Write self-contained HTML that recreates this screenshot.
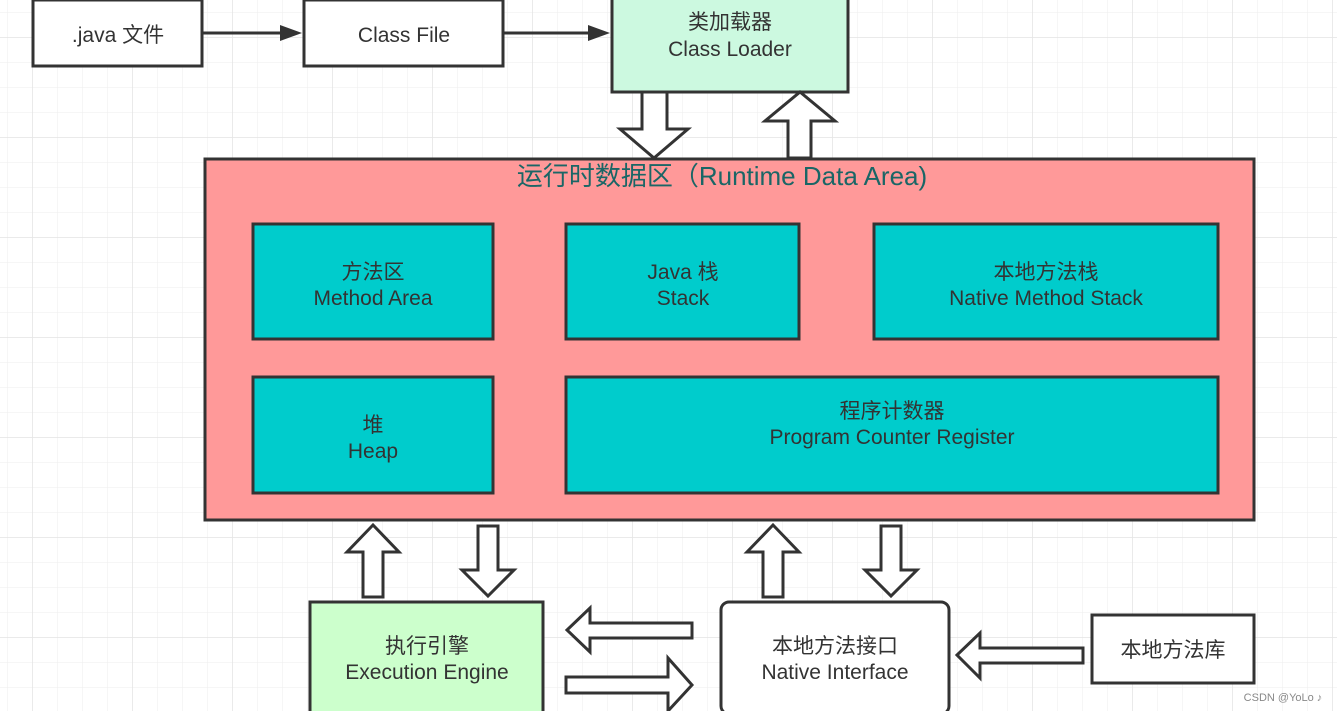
<!DOCTYPE html>
<html><head><meta charset="utf-8"><style>
html,body{margin:0;padding:0;background:#fff}
svg{display:block}
text{font-family:"Liberation Sans","Noto Sans CJK SC",sans-serif;font-size:21px;fill:#333;text-anchor:middle}
</style></head><body>
<svg width="1337" height="711" viewBox="0 0 1337 711" xmlns="http://www.w3.org/2000/svg">
<defs>
<pattern id="g" x="7" y="12" width="25" height="25" patternUnits="userSpaceOnUse">
<path d="M0 0H25M0 0V25" stroke="#eeeeee" stroke-width="1" fill="none"/>
</pattern>
<pattern id="G" x="32" y="37" width="100" height="100" patternUnits="userSpaceOnUse">
<path d="M0 0H100M0 0V100" stroke="#e4e4e4" stroke-width="1.5" fill="none"/>
</pattern>
</defs>
<rect width="1337" height="711" fill="url(#g)"/>
<rect width="1337" height="711" fill="url(#G)"/>
<g stroke="#333" stroke-width="3">
<rect x="33" y="0" width="169" height="66" fill="#fff"/>
<rect x="304" y="0" width="199" height="66" fill="#fff"/>
<rect x="612" y="-2" width="236" height="94" fill="#ccf9e0"/>
<rect x="205" y="159" width="1049" height="361" fill="#ff9999"/>
<rect x="253" y="224" width="240" height="115" fill="#00cccc"/>
<rect x="566" y="224" width="233" height="115" fill="#00cccc"/>
<rect x="874" y="224" width="344" height="115" fill="#00cccc"/>
<rect x="253" y="377" width="240" height="116" fill="#00cccc"/>
<rect x="566" y="377" width="652" height="116" fill="#00cccc"/>
<rect x="310" y="602" width="233" height="112" fill="#ccffcc"/>
<rect x="721" y="602" width="228" height="112" rx="8" fill="#fff"/>
<rect x="1092" y="615" width="162" height="68" fill="#fff"/>
</g>
<g stroke="#333" stroke-width="3" fill="#fff" stroke-linejoin="miter">
<path d="M642 92V129H620L654 158L688 129H667V92Z"/>
<path d="M788 158V121H765L800 92L835 121H811V158Z"/>
<path d="M363 597V552H347L373 525L399 552H383V597Z"/>
<path d="M478 526V570H462L488 596L514 570H498V526Z"/>
<path d="M763 597V552H747L773 525L799 552H783V597Z"/>
<path d="M881 526V570H865L891 596L917 570H901V526Z"/>
<path d="M692 623H590V608L567 630L590 652V638H692Z"/>
<path d="M566 677H668V658L692 685L668 711V693H566Z"/>
<path d="M1083 648H980V633L957 655L980 678V663H1083Z"/>
</g>
<path d="M203 33H285" stroke="#333" stroke-width="3"/>
<path d="M280 25L302 33L280 41Z" fill="#333"/>
<path d="M504 33H590" stroke="#333" stroke-width="3"/>
<path d="M588 25L610 33L588 41Z" fill="#333"/>
<text x="118" y="42">.java 文件</text>
<text x="404" y="42">Class File</text>
<text x="730" y="29">类加载器</text>
<text x="730" y="56">Class Loader</text>
<text x="722" y="185" style="font-size:26px;fill:#1a6666">运行时数据区（Runtime Data Area)</text>
<text x="373" y="279">方法区</text>
<text x="373" y="305">Method Area</text>
<text x="683" y="279">Java 栈</text>
<text x="683" y="305">Stack</text>
<text x="1046" y="279">本地方法栈</text>
<text x="1046" y="305">Native Method Stack</text>
<text x="373" y="432">堆</text>
<text x="373" y="458">Heap</text>
<text x="892" y="418">程序计数器</text>
<text x="892" y="444">Program Counter Register</text>
<text x="427" y="653">执行引擎</text>
<text x="427" y="679">Execution Engine</text>
<text x="835" y="653">本地方法接口</text>
<text x="835" y="679">Native Interface</text>
<text x="1173" y="657">本地方法库</text>
<text x="1283" y="701" style="font-size:11px;fill:#888">CSDN @YoLo ♪</text>
</svg>
</body></html>
